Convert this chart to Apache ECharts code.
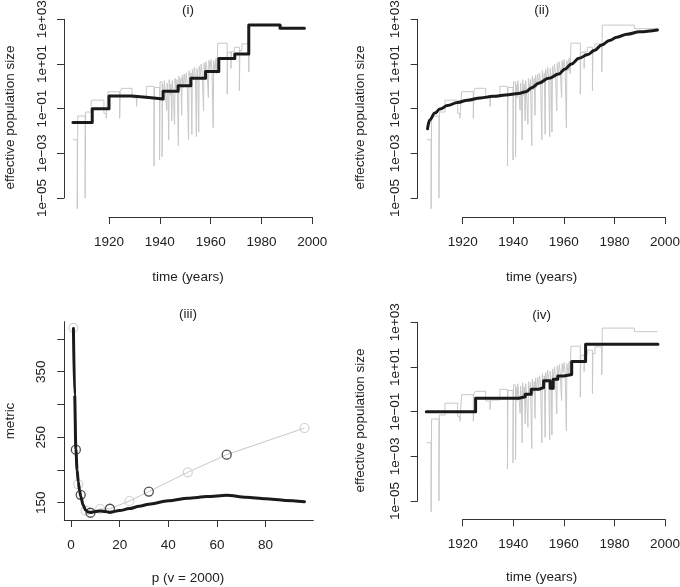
<!DOCTYPE html>
<html><head><meta charset="utf-8">
<script src="https://cdn.jsdelivr.net/npm/echarts@6/dist/echarts.min.js"></script>
<style>html,body{margin:0;padding:0;background:#fff}#c{width:680px;height:587px}</style>
</head><body><div id="c"></div>
<script>
// ---------- data (effective population size given as log10 values) ----------
// grey skyline estimate (same in panels i, ii, iv): change times and log10 levels
const skyYears = [1905.8,1907.5,1907.7,1910.6,1910.8,1913.0,1918.0,1918.9,1919.6,1924.2,1924.4,1924.9,1929.1,1930.8,1931.1,1934.7,1937.7,1937.9,1939.9,1940.1,1940.9,
  1941.1,1941.5,1941.8,1942.2,1942.7,1942.9,1943.2,1943.5,1943.7,1944.1,1944.4,1944.7,1944.9,1945.3,1945.8,1946.0,1946.4,1946.8,1947.3,1947.5,1947.9,1948.3,1948.6,1948.8,
  1949.2,1949.6,1950.0,1950.4,1950.8,1951.3,1951.5,1951.9,1952.3,1952.6,1952.8,1953.2,1953.6,1954.0,1954.4,1954.6,1955.0,1955.3,1955.5,1955.9,1956.3,1956.7,1957.2,1957.4,
  1957.8,1958.2,1958.6,1959.1,1959.3,1959.7,1960.1,1960.5,1961.0,1961.2,1961.7,1962.1,1962.5,1962.8,1966.5,1966.7,1967.4,1968.0,1968.2,1969.3,1971.3,1971.5,1972.3,1975.0,1975.2,1987.9,1997.1];
const skyLog10 = [-2.39,-5.48,-1.33,-5.0,-1.15,-0.62,-1.21,-1.43,-0.24,-1.43,-0.24,-0.09,-0.52,-0.9,-0.48,0.0,-3.57,-0.05,-3.3,0.2,-3.15,
  0.1,-0.5,0.25,-0.3,-1.07,0.15,-0.35,-2.4,0.3,-0.4,0.1,-1.55,0.25,-0.45,-1.7,0.35,-0.2,0.3,-2.65,0.45,-0.15,0.35,-1.3,0.5,
  -0.05,0.55,0.05,0.6,0.1,-2.4,0.7,0.2,0.6,-2.15,0.75,0.3,0.85,0.4,-2.25,0.8,0.35,-2.05,0.9,0.45,1.0,0.55,-1.1,1.05,
  0.6,1.1,0.7,-0.5,1.15,0.75,1.2,0.8,-1.85,1.15,0.7,1.25,0.57,1.93,-0.35,1.5,1.55,0.8,1.55,1.75,-0.2,1.6,1.9,0.65,2.74,2.58,2.58];

// panel (i) black step estimate
const fitIYears = [1905.8,1913.4,1920.0,1928.9,1935.6,1941.3,1947.2,1952.2,1958.0,1963.2,1969.5,1975.0,1987.3,1996.9];
const fitILog10 = [-1.62,-1.0,-0.43,-0.5,-0.57,-0.22,0.03,0.36,0.66,1.25,1.45,2.75,2.6,2.6];

// panel (ii) black smooth estimate
const fitIIYears = [1906.1,1907.0,1909.0,1911.0,1914.0,1918.0,1922.0,1927.0,1932.0,1937.0,1942.0,1945.0,1947.5,1950.0,1954.0,1958.0,1960.5,1963.0,1966.0,1969.5,1972.0,1975.0,1978.0,1981.0,1985.0,1990.0,1997.0];
const fitIILog10 = [-1.9,-1.5,-1.2,-1.02,-0.86,-0.72,-0.62,-0.52,-0.45,-0.39,-0.32,-0.24,-0.05,0.14,0.36,0.55,0.78,1.0,1.26,1.42,1.6,1.85,2.05,2.2,2.33,2.44,2.52];

// panel (iv) black step estimate
const fitIVYears = [1905.6,1925.1,1942.2,1944.7,1947.1,1950.0,1952.0,1954.6,1955.8,1957.6,1960.0,1963.1,1968.6,1997.2];
const fitIVLog10 = [-1.0,-0.4,-0.33,-0.22,0.0,0.08,0.38,0.05,0.45,0.6,0.66,1.24,2.02,2.02];

// panel (iii) metric vs p
const pValues      = [1,2,3,4,6,8,12,16,24,32,48,64,96];
const metricValues = [417,231,178,162,138,134.7,140.4,140.8,152.6,167,196.4,223.3,264];
const circleGroup  = ['g','k','g','k','g','k','g','k','g','k','g','k','g'];
const smoothP      = [1,1.5,2,2.5,3,3.5,4,5,6,7,8,10,12,14,16,20,24,28,32,40,48,56,64,72,80,88,96];
const smoothMetric = [416,315,232,200,182,169,160,146,139,136,135,136.5,137.5,136.5,135.5,138,141,144.5,147.8,152.8,156.8,159.3,161.5,158.5,156,153.5,151.5];

// ticks
const timeTicks = [1920,1940,1960,1980,2000];
const logTicks = [-5,-3,-1,1,3];
const pTicks = [0,20,40,60,80];
const metricTicks = [150,200,250,300,350,400];
const metricLabels = [150,250,350];

// ---------- chart ----------
const FONT = 'Liberation Sans, Arial, Helvetica, sans-serif';
const FS = 13.5;
const TXT = '#222', AX = '#333', GREY = '#c8c8c8', BLK = '#1a1a1a';
const zip = (a, b) => a.map((v, i) => [v, b[i]]);
const logFmt = v => '1e' + (v < 0 ? '\u2212' : '+') + String(Math.abs(v)).padStart(2, '0');
const plainFmt = v => String(v);

const grids = [], xAxes = [], yAxes = [], series = [];

function visAxisX(grid, min, max, ticks, offset) {
  return {gridIndex: grid, type: 'value', min, max, offset,
    axisLine: {show: true, onZero: false, lineStyle: {color: AX, width: 1}},
    axisTick: {show: true, customValues: ticks, length: 7, lineStyle: {color: AX, width: 1}},
    axisLabel: {customValues: ticks, margin: 18, fontSize: FS, color: TXT, fontFamily: FONT, formatter: plainFmt},
    splitLine: {show: false}};
}
function visAxisY(grid, min, max, ticks, labels, fmt, offset, margin) {
  return {gridIndex: grid, type: 'value', min, max, offset,
    axisLine: {show: true, onZero: false, lineStyle: {color: AX, width: 1}},
    axisTick: {show: true, customValues: ticks, length: 7, lineStyle: {color: AX, width: 1}},
    axisLabel: {customValues: labels, rotate: 90, margin, fontSize: FS, color: TXT, fontFamily: FONT, formatter: fmt},
    splitLine: {show: false}};
}
function hiddenAxis(grid, min, max) {
  return {gridIndex: grid, type: 'value', min, max, show: false, splitLine: {show: false}};
}
function addGrid(left, top, right, bottom) {
  grids.push({left, top, width: right - left, height: bottom - top, containLabel: false, outerBoundsMode: 'none'});
  return grids.length - 1;
}

// Time panel in R style: data grid = plot region, axis grid = tick range (axis lines only between end ticks)
function timePanel(tick, plot, lines) {
  const sx = (tick.x1 - tick.x0) / (timeTicks[4] - timeTicks[0]);
  const sy = (tick.yBot - tick.yTop) / (logTicks[4] - logTicks[0]);
  const xmin = timeTicks[0] - (tick.x0 - plot.left) / sx;
  const xmax = timeTicks[4] + (plot.right - tick.x1) / sx;
  const ymax = logTicks[4] + (tick.yTop - plot.top) / sy;
  const ymin = logTicks[0] - (plot.bottom - tick.yBot) / sy;
  const gd = addGrid(plot.left, plot.top, plot.right, plot.bottom);
  xAxes.push(hiddenAxis(gd, xmin, xmax)); yAxes.push(hiddenAxis(gd, ymin, ymax));
  const di = xAxes.length - 1;
  const ga = addGrid(tick.x0, tick.yTop, tick.x1, tick.yBot);
  xAxes.push(visAxisX(ga, timeTicks[0], timeTicks[4], timeTicks, plot.bottom - tick.yBot));
  yAxes.push(visAxisY(ga, logTicks[0], logTicks[4], logTicks, logTicks, logFmt, tick.x0 - plot.left, 15));
  series.push({type: 'line', xAxisIndex: di, yAxisIndex: di, data: zip(skyYears, skyLog10), step: 'end',
    showSymbol: false, lineStyle: {color: GREY, width: 1}, silent: true, z: 2});
  series.push(Object.assign({type: 'line', xAxisIndex: di, yAxisIndex: di, showSymbol: false,
    lineStyle: {color: BLK, width: 3, cap: 'round', join: 'round'}, z: 3}, lines));
}

// (i)
timePanel({x0: 109, x1: 312.3, yTop: 19.3, yBot: 198}, {left: 64, right: 315, top: 17.7, bottom: 217},
  {data: zip(fitIYears, fitILog10), step: 'end'});
// (ii)
timePanel({x0: 462.7, x1: 665, yTop: 19.3, yBot: 198}, {left: 417.7, right: 667.7, top: 17.7, bottom: 217},
  {data: zip(fitIIYears, fitIILog10), smooth: 0.4, smoothMonotone: 'x'});
// (iv)
timePanel({x0: 462.7, x1: 665, yTop: 322.3, yBot: 501}, {left: 417.7, right: 667.7, top: 320.7, bottom: 519.3},
  {data: zip(fitIVYears, fitIVLog10), step: 'end'});

// (iii) with L-shaped box
const g3 = addGrid(64.3, 321.7, 313.3, 520);
xAxes.push(visAxisX(g3, -2.75, 99.6, pTicks, 0));
yAxes.push(visAxisY(g3, 123.6, 426.3, metricTicks, metricLabels, plainFmt, 0, 16));
const i3 = xAxes.length - 1;
series.push(
  {type: 'line', xAxisIndex: i3, yAxisIndex: i3, data: zip(pValues, metricValues), showSymbol: false,
    lineStyle: {color: GREY, width: 1}, z: 2},
  {type: 'scatter', xAxisIndex: i3, yAxisIndex: i3, symbol: 'circle', symbolSize: 9,
    data: zip(pValues, metricValues).filter((d, i) => circleGroup[i] === 'g'),
    itemStyle: {color: 'rgba(0,0,0,0)', borderColor: GREY, borderWidth: 1.2}, z: 3},
  {type: 'line', xAxisIndex: i3, yAxisIndex: i3, data: zip(smoothP, smoothMetric), smooth: 0.3, smoothMonotone: 'x', showSymbol: false,
    lineStyle: {color: BLK, width: 3, cap: 'round', join: 'round'}, z: 4},
  {type: 'scatter', xAxisIndex: i3, yAxisIndex: i3, symbol: 'circle', symbolSize: 9,
    data: zip(pValues, metricValues).filter((d, i) => circleGroup[i] === 'k'),
    itemStyle: {color: 'rgba(0,0,0,0)', borderColor: '#222', borderWidth: 1.3}, z: 5}
);

function txt(x, y, s, rot) {
  return {type: 'text', x, y, rotation: rot ? Math.PI / 2 : 0,
    style: {text: s, font: FS + 'px ' + FONT, fill: TXT, textAlign: 'center', textVerticalAlign: 'middle', align: 'center', verticalAlign: 'middle'}};
}

const option = {
  animation: false,
  backgroundColor: '#fff',
  grid: grids, xAxis: xAxes, yAxis: yAxes, series,
  graphic: [
    txt(188, 10, '(i)'), txt(541.7, 10, '(ii)'), txt(188, 314, '(iii)'), txt(541.7, 315, '(iv)'),
    txt(188, 277, 'time (years)'), txt(541.7, 277, 'time (years)'), txt(188, 578, 'p (v = 2000)'), txt(541.7, 577, 'time (years)'),
    txt(10, 117.5, 'effective population size', true), txt(360, 117.5, 'effective population size', true),
    txt(10, 421, 'metric', true), txt(360, 420.5, 'effective population size', true)
  ]
};
const chart = echarts.init(document.getElementById('c'), null, {renderer: 'canvas'});
chart.setOption(option);
</script></body></html>
